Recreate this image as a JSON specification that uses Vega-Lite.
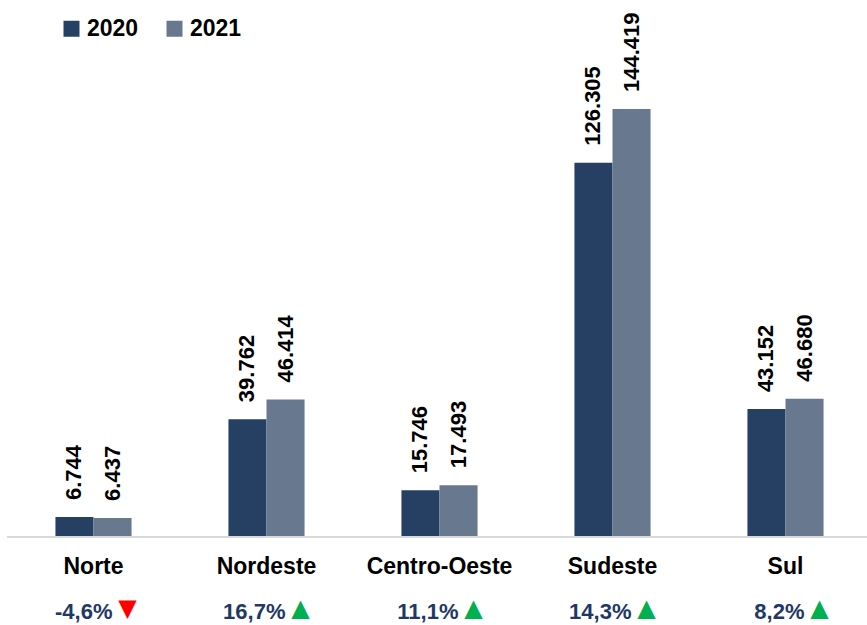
{
  "$schema": "https://vega.github.io/schema/vega-lite/v6.json",
  "width": 865,
  "height": 537,
  "autosize": {"type": "none"},
  "padding": {"left": 7, "top": 0, "right": 0, "bottom": 88},
  "config": {
    "view": {"stroke": null},
    "font": "Liberation Sans",
    "locale": {"number": {"decimal": ",", "thousands": ".", "grouping": [3], "currency": ["R$", ""], "minus": "-"}}
  },
  "datasets": {
    "valores": [
      {"regiao": "Norte", "ano": "2020", "valor": 6744},
      {"regiao": "Norte", "ano": "2021", "valor": 6437},
      {"regiao": "Nordeste", "ano": "2020", "valor": 39762},
      {"regiao": "Nordeste", "ano": "2021", "valor": 46414},
      {"regiao": "Centro-Oeste", "ano": "2020", "valor": 15746},
      {"regiao": "Centro-Oeste", "ano": "2021", "valor": 17493},
      {"regiao": "Sudeste", "ano": "2020", "valor": 126305},
      {"regiao": "Sudeste", "ano": "2021", "valor": 144419},
      {"regiao": "Sul", "ano": "2020", "valor": 43152},
      {"regiao": "Sul", "ano": "2021", "valor": 46680}
    ],
    "variacao": [
      {"regiao": "Norte", "variacao": -0.046},
      {"regiao": "Nordeste", "variacao": 0.167},
      {"regiao": "Centro-Oeste", "variacao": 0.111},
      {"regiao": "Sudeste", "variacao": 0.143},
      {"regiao": "Sul", "variacao": 0.082}
    ]
  },
  "layer": [
    {
      "data": {"name": "valores"},
      "mark": {"type": "bar"},
      "encoding": {
        "x": {"field": "regiao", "type": "nominal", "sort": null, "scale": {"domain": ["Norte", "Nordeste", "Centro-Oeste", "Sudeste", "Sul"], "paddingInner": 0.56, "paddingOuter": 0.28}, "axis": null},
        "xOffset": {"field": "ano", "type": "nominal", "sort": null, "scale": {"domain": ["2020", "2021"], "paddingInner": 0, "paddingOuter": 0}},
        "y": {"field": "valor", "type": "quantitative", "scale": {"domain": [0, 181200], "nice": false}, "axis": null},
        "color": {
          "field": "ano", "type": "nominal",
          "scale": {"domain": ["2020", "2021"], "range": ["#264064", "#68788f"]},
          "legend": {
            "orient": "none", "legendX": 53, "legendY": 17, "direction": "horizontal", "title": null,
            "symbolType": "square", "symbolSize": 256, "symbolStrokeWidth": 0, "symbolOpacity": 1,
            "labelFont": "Liberation Sans", "labelFontWeight": "bold", "labelFontSize": 23, "labelColor": "#000000",
            "labelOffset": 4, "columnPadding": 24, "padding": 0
          }
        }
      }
    },
    {
      "data": {"name": "valores"},
      "mark": {"type": "text", "angle": 270, "align": "left", "baseline": "middle", "dx": 17, "font": "Liberation Sans", "fontWeight": "bold", "fontSize": 22, "color": "#000000"},
      "encoding": {
        "x": {"field": "regiao", "type": "nominal", "sort": null},
        "xOffset": {"field": "ano", "type": "nominal", "sort": null},
        "y": {"field": "valor", "type": "quantitative"},
        "text": {"field": "valor", "type": "quantitative", "format": ",.0f"}
      }
    },
    {
      "data": {"name": "variacao"},
      "mark": {"type": "rule", "color": "#d9d9d9", "strokeWidth": 2},
      "encoding": {"y": {"datum": 0, "type": "quantitative"}}
    },
    {
      "data": {"name": "variacao"},
      "mark": {"type": "text", "align": "center", "baseline": "alphabetic", "dy": 37, "font": "Liberation Sans", "fontWeight": "bold", "fontSize": 23, "color": "#000000"},
      "encoding": {
        "x": {"field": "regiao", "type": "nominal", "sort": null},
        "y": {"datum": 0, "type": "quantitative"},
        "text": {"field": "regiao", "type": "nominal"}
      }
    },
    {
      "data": {"name": "variacao"},
      "mark": {"type": "text", "align": "right", "baseline": "alphabetic", "dx": 19, "dy": 82, "font": "Liberation Sans", "fontWeight": "bold", "fontSize": 22, "color": "#1f3864"},
      "encoding": {
        "x": {"field": "regiao", "type": "nominal", "sort": null},
        "y": {"datum": 0, "type": "quantitative"},
        "text": {"field": "variacao", "type": "quantitative", "format": ".1%"}
      }
    },
    {
      "data": {"name": "variacao"},
      "transform": [{"calculate": "datum.variacao < 0 ? '▼' : '▲'", "as": "seta"}],
      "mark": {"type": "text", "align": "center", "baseline": "middle", "dx": 34, "dy": 72, "font": "DejaVu Sans", "fontSize": 24},
      "encoding": {
        "x": {"field": "regiao", "type": "nominal", "sort": null},
        "y": {"datum": 0, "type": "quantitative"},
        "text": {"field": "seta", "type": "nominal"},
        "color": {"condition": {"test": "datum.variacao < 0", "value": "#ff0000"}, "value": "#00b050"}
      }
    }
  ]
}
